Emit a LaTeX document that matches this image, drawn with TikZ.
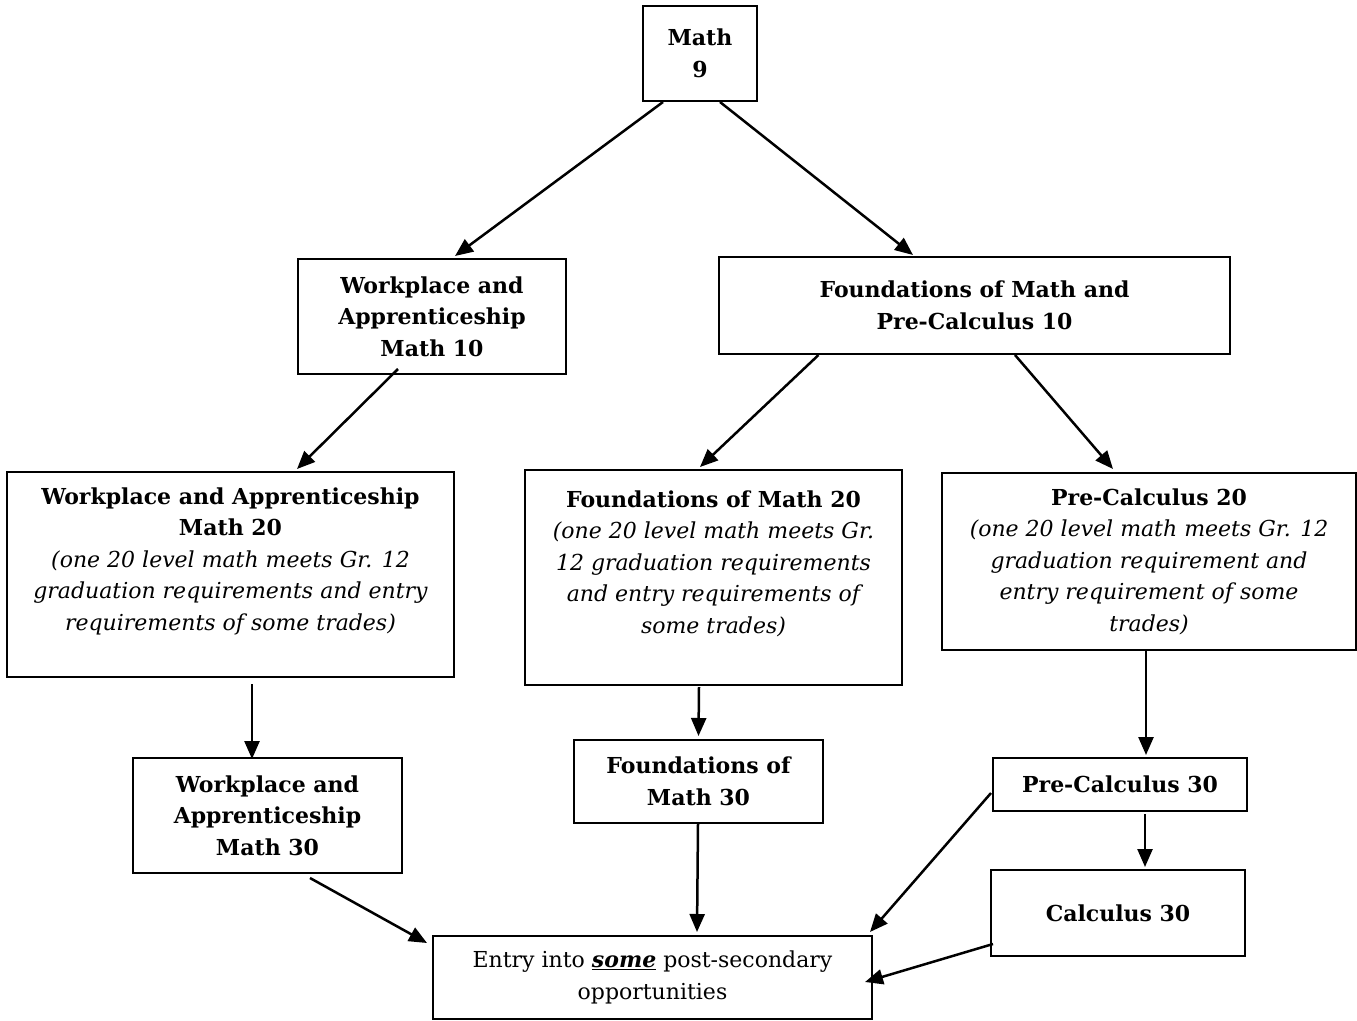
\documentclass[tikz,border=0pt]{standalone}
\usepackage{fontspec}
\setmainfont{DejaVu Serif}
\usetikzlibrary{arrows.meta}
\newcommand\fsz{\fontsize{22}{31.5}\selectfont}
\newcommand\ital[1]{{\mdseries\itshape #1}}
\begin{document}
\begin{tikzpicture}[x=1pt,y=-1pt,
  box/.style={draw, line width=2pt, inner sep=0pt, align=center, font=\bfseries\fsz},
  arr/.style={line width=2.5pt, -{Triangle[length=18pt,width=15pt]}}]
\useasboundingbox (0,0) rectangle (1357,1020);
\node[box, minimum width=114pt, minimum height=95pt] (m9) at (700,53.5) {Math\\9};
\node[box, minimum width=268pt, minimum height=115pt] (wa10) at (432,316.5) {Workplace and\\Apprenticeship\\Math 10};
\node[box, minimum width=511pt, minimum height=97pt] (fpc10) at (974.5,305.5) {Foundations of Math and\\Pre-Calculus 10};
\node[box, minimum width=447pt, minimum height=205pt] (wa20) at (230.5,574.5) {Workplace and Apprenticeship\\Math 20\\\ital{(one 20 level math meets Gr. 12}\\\ital{graduation requirements and entry}\\\ital{requirements of some trades)}\\\mbox{}};
\node[box, minimum width=377pt, minimum height=215pt] (fm20) at (713.5,577.5) {Foundations of Math 20\\\ital{(one 20 level math meets Gr.}\\\ital{12 graduation requirements}\\\ital{and entry requirements of}\\\ital{some trades)}\\\mbox{}};
\node[box, minimum width=414pt, minimum height=177pt] (pc20) at (1149,561.5) {Pre-Calculus 20\\\ital{(one 20 level math meets Gr. 12}\\\ital{graduation requirement and}\\\ital{entry requirement of some}\\\ital{trades)}};
\node[box, minimum width=269pt, minimum height=115pt] (wa30) at (267.5,815.5) {Workplace and\\Apprenticeship\\Math 30};
\node[box, minimum width=249pt, minimum height=83pt] (fm30) at (698.5,781.5) {Foundations of\\Math 30};
\node[box, minimum width=254pt, minimum height=53pt] (pc30) at (1120,784.5) {Pre-Calculus 30};
\node[box, minimum width=254pt, minimum height=86pt] (c30) at (1118,913) {Calculus 30};
\node[box, font=\mdseries\fsz, minimum width=439pt, minimum height=83pt] (entry) at (652.5,977.5) {Entry into \underline{\textbf{\textit{some}}} post-secondary\\opportunities};

\draw[arr] ([xshift=-37pt]m9.south) -- ([xshift=23pt,yshift=2pt]wa10.north);
\draw[arr] ([xshift=20pt]m9.south) -- ([xshift=-61.5pt,yshift=1pt]fpc10.north);
\draw[arr] ([xshift=-34pt,yshift=6pt]wa10.south) -- ([xshift=66.5pt,yshift=2pt]wa20.north);
\draw[arr] ([xshift=-156pt]fpc10.south) -- ([xshift=-13.5pt,yshift=2pt]fm20.north);
\draw[arr] ([xshift=40.5pt]fpc10.south) -- ([xshift=-36pt,yshift=3pt]pc20.north);
\draw[arr] ([xshift=21.5pt,yshift=-6pt]wa20.south) -- ([xshift=-15.5pt,yshift=-2pt]wa30.north);
\draw[arr] ([xshift=-14.5pt,yshift=-1pt]fm20.south) -- ([yshift=3pt]fm30.north);
\draw[arr] ([xshift=-3pt]pc20.south) -- ([xshift=26pt,yshift=2pt]pc30.north);
\draw[arr] ([xshift=25pt,yshift=-2pt]pc30.south) -- ([xshift=27pt,yshift=2pt]c30.north);
\draw[arr] ([xshift=42.5pt,yshift=-4pt]wa30.south) -- ([xshift=-5pt,yshift=-8pt]entry.north west);
\draw[arr] ([xshift=-0.5pt]fm30.south) -- ([xshift=44.5pt,yshift=3pt]entry.north);
\draw[arr] ([xshift=-1pt,yshift=-8.5pt]pc30.west) -- ([xshift=-3pt,yshift=3pt]entry.north east);
\draw[arr] ([xshift=3pt,yshift=-31pt]c30.west) -- ([xshift=-8pt,yshift=-4.5pt]entry.east);
\end{tikzpicture}
\end{document}
